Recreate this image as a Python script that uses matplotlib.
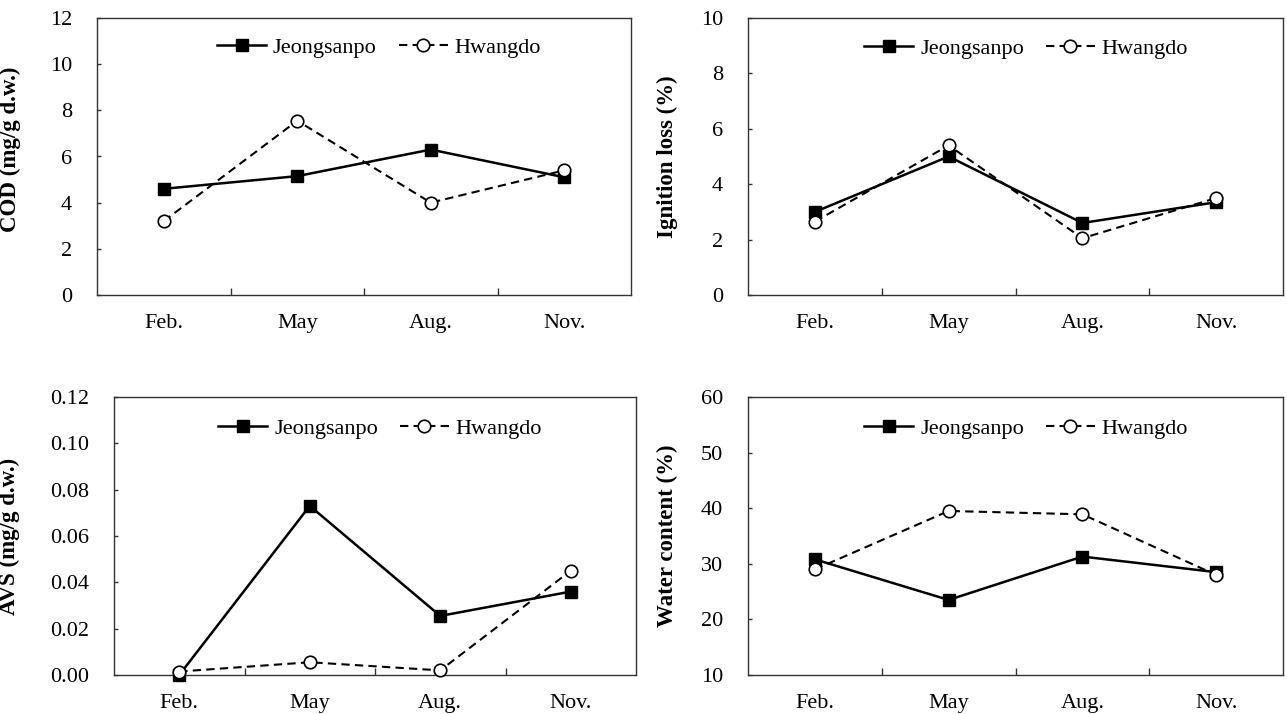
import matplotlib
matplotlib.use("Agg")
import matplotlib.pyplot as plt
from matplotlib.ticker import FixedLocator, FormatStrFormatter

plt.rcParams['font.family'] = ['Liberation Serif', 'DejaVu Serif']

months = ["Feb.", "May", "Aug.", "Nov."]
series_names = ["Jeongsanpo", "Hwangdo"]

cod_jeongsanpo = [4.6, 5.15, 6.3, 5.1]
cod_hwangdo = [3.2, 7.55, 4.0, 5.4]

ign_jeongsanpo = [3.0, 5.0, 2.6, 3.35]
ign_hwangdo = [2.65, 5.4, 2.05, 3.5]

avs_jeongsanpo = [0.0, 0.073, 0.0255, 0.036]
avs_hwangdo = [0.0015, 0.0055, 0.002, 0.045]

water_jeongsanpo = [30.8, 23.5, 31.3, 28.5]
water_hwangdo = [29.0, 39.5, 38.9, 28.0]

W, H = 1287, 714
fig = plt.figure(figsize=(W / 100, H / 100), dpi=100)

panels = [
    # (left, right, top, bottom) px, data, ylabel, ylim, yticks, fmt, legend anchor, label x px, label y frac
    ((97, 631, 18, 295), cod_jeongsanpo, cod_hwangdo, "COD (mg/g d.w.)",
     (0, 12), [0, 2, 4, 6, 8, 10, 12], "%d", (0.528, 0.893), 21, 0.527),
    ((748, 1283, 18, 295), ign_jeongsanpo, ign_hwangdo, "Ignition loss (%)",
     (0, 10), [0, 2, 4, 6, 8, 10], "%d", (0.52, 0.89), 678, 0.5),
    ((114, 636, 397, 675), avs_jeongsanpo, avs_hwangdo, "AVS (mg/g d.w.)",
     (0, 0.12), [0, 0.02, 0.04, 0.06, 0.08, 0.10, 0.12], "%.2f", (0.51, 0.885), 20, 0.5),
    ((748, 1283, 397, 675), water_jeongsanpo, water_hwangdo, "Water content (%)",
     (10, 60), [10, 20, 30, 40, 50, 60], "%d", (0.52, 0.885), 678, 0.5),
]

fs = 16
x = list(range(len(months)))

for (l, r, t, b), yj, yh, ylab, ylim, yticks, fmt, lanchor, labx, laby in panels:
    ax = fig.add_axes([l / W, 1 - b / H, (r - l) / W, (b - t) / H])
    ax.plot(x, yj, color='black', lw=1.8, marker='s', markersize=9,
            markerfacecolor='black', markeredgecolor='black',
            label=series_names[0], zorder=3, clip_on=False)
    ax.plot(x, yh, color='black', lw=1.5, linestyle=(0, (4, 2.5)), marker='o',
            markersize=9, markerfacecolor='white', markeredgecolor='black',
            markeredgewidth=1.2, label=series_names[1], zorder=4, clip_on=False)
    ax.set_xlim(-0.5, len(months) - 0.5)
    ax.set_ylim(*ylim)
    ax.set_yticks(yticks)
    ax.yaxis.set_major_formatter(FormatStrFormatter(fmt))
    ax.set_xticks(x)
    ax.set_xticklabels(months)
    ax.xaxis.set_minor_locator(FixedLocator([0.5, 1.5, 2.5]))
    ax.tick_params(axis='x', which='major', length=0, pad=14, labelsize=fs)
    ax.tick_params(axis='x', which='minor', direction='in', length=5, width=1,
                   color='#333333')
    ax.tick_params(axis='y', direction='in', length=3, width=1, pad=18,
                   labelsize=fs, color='#333333')
    for s in ax.spines.values():
        s.set_color('#333333')
        s.set_linewidth(1.0)
    ax.set_ylabel(ylab, fontsize=16.5, fontweight='bold')
    ax.yaxis.set_label_coords((labx - l) / (r - l), laby)
    ax.legend(loc='center', bbox_to_anchor=lanchor, ncol=2, frameon=False,
              fontsize=fs, handlelength=2.2, handletextpad=0.3,
              columnspacing=1.0)

fig.savefig("out.png", dpi=100)
